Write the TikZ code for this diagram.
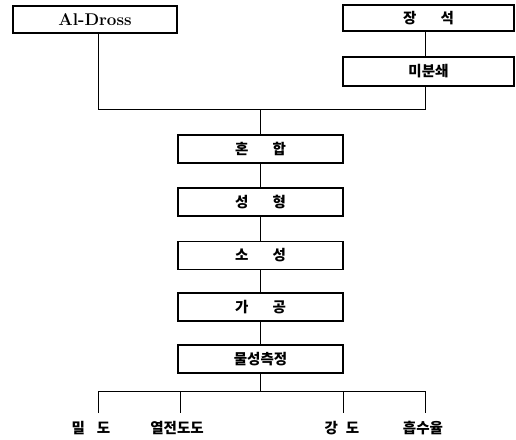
\documentclass[tikz,border=0pt]{standalone}
\usepackage{fontspec}
\newfontfamily\kr{Noto Sans CJK KR}
\begin{document}
\begin{tikzpicture}[x=1pt,y=-1pt,
  box/.style={draw,line width=1.1pt,minimum width=165pt,minimum height=28pt,inner sep=0pt,
    font=\kr\bfseries\fontsize{14.5}{14.5}\selectfont},
  ln/.style={line width=1pt},
  lbl/.style={inner sep=0pt,font=\kr\bfseries\fontsize{14.5}{14.5}\selectfont}]
\useasboundingbox (0,0) rectangle (516,439);
% top boxes
\node[box,minimum width=164pt,minimum height=27pt,font=\bfseries\fontsize{17}{17}\selectfont] (dross) at (95,19.5) {Al-Dross};
\node[box,minimum width=171pt,minimum height=26pt] (jang) at (428.5,18) {장\hspace{24pt}석};
\node[box,minimum width=171pt,minimum height=29pt] (mibun) at (428.5,71.5) {미분쇄};
% middle chain
\node[box] (hon) at (260.5,149) {혼\hspace{24pt}합};
\node[box] (sung) at (260.5,202) {성\hspace{24pt}형};
\node[box] (so) at (260.5,255.5) {소\hspace{24pt}성};
\node[box] (ga) at (260.5,307) {가\hspace{24pt}공};
\node[box] (mul) at (260.5,359) {물성측정};
% joining coordinates
\coordinate (rx) at (425,0);
\coordinate (jl) at (98,109);
\coordinate (jr) at (425,109);
\coordinate (jc) at (260.5,109);
\draw[ln] (dross.south -| jl) -- (jl) -- (jr) -- (mibun.south -| rx);
\draw[ln] (jang.south -| rx) -- (mibun.north -| rx);
\draw[ln] (jc) -- (hon.north);
\draw[ln] (hon.south) -- (sung.north);
\draw[ln] (sung.south) -- (so.north);
\draw[ln] (so.south) -- (ga.north);
\draw[ln] (ga.south) -- (mul.north);
% bottom tree
\coordinate (b1) at (98,391);
\coordinate (b2) at (180,391);
\coordinate (b3) at (343,391);
\coordinate (b4) at (425,391);
\coordinate (t1) at (98,413);
\coordinate (t2) at (180,413);
\coordinate (t3) at (343,413);
\coordinate (t4) at (425,413);
\draw[ln] (mul.south) -- (mul.south |- b1);
\draw[ln] (t1) -- (b1) -- (b4) -- (t4);
\draw[ln] (b2) -- (t2);
\draw[ln] (b3) -- (t3);
\node[lbl] (l1) at (91,428) {밀\hspace{12pt}도};
\node[lbl] (l2) at (177,428) {열전도도};
\node[lbl] (l3) at (342,428) {강\hspace{8pt}도};
\node[lbl] (l4) at (423,428) {흡수율};
\end{tikzpicture}
\end{document}
